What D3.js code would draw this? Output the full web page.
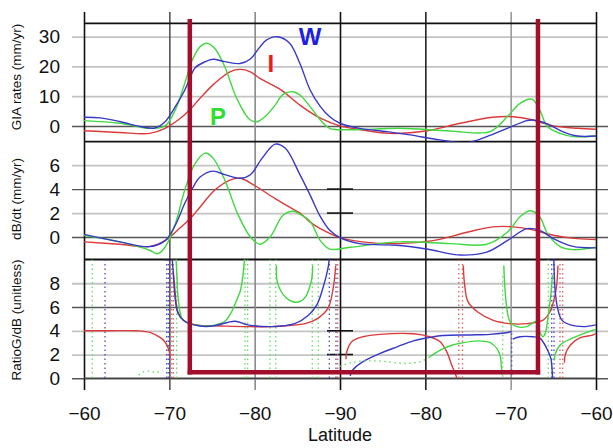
<!DOCTYPE html>
<html><head><meta charset="utf-8">
<script src="https://cdn.jsdelivr.net/npm/d3@7"></script>
<style>
html,body{margin:0;padding:0;background:#fff;}
svg{display:block;font-family:"Liberation Sans",Arial,Helvetica,sans-serif;}
</style></head>
<body>
<svg id="c" width="613" height="448"></svg>
<script>
// ---- x axis: position along the transect (degrees), labelled as latitude ----
const xTicks = [0, 10, 20, 30, 40, 50, 60];
const xTickLabels = ["\u221260","\u221270","\u221280","\u221290","\u221280","\u221270","\u221260"];

// ---- panel 1: GIA rates (mm/yr) ----
const giaTicks = [0, 10, 20, 30];
const giaW = [[0,2.9],[1.9,2.7],[4.2,1.5],[6.6,-0.2],[8.3,-0.7],[9.5,1.4],[10.7,6.5],[11.8,12],[12.4,16],[13.0,19.5],[14.2,21.6],[15.1,22.4],[16.5,21.6],[18.3,21],[19.5,22.5],[20.6,26.5],[21.4,28.9],[22.7,30],[24.1,27.8],[25.3,21],[26.5,12.1],[27.7,6.5],[28.8,3.1],[30.0,0.9],[32.3,-0.8],[35.5,-1.9],[38.2,-3],[41.7,-4.7],[44.9,-5.6],[47.2,-3.6],[49.6,-0.8],[51.9,1.8],[52.6,2.0],[54.3,0.7],[56.1,-1.9],[57.8,-3.4],[60,-3.4]];
const giaI = [[0,-1.6],[4.2,-2.2],[7.7,-2.5],[9.5,-0.8],[11.3,2.6],[12.4,5.4],[13.6,9.3],[15.3,14.3],[17.1,18.2],[18.3,19],[19.5,18.2],[20.6,16],[23.0,12.3],[25.3,7],[27.7,2.6],[30.0,0],[32.1,-1.1],[35.8,-2.5],[40.2,-1.6],[44.1,0.9],[47.9,2.9],[50.3,3.1],[52.6,2],[55.0,0],[57.8,-0.8],[60,-1.1]];
const giaP = [[0,1.8],[4.2,0.9],[7.7,-0.8],[9.5,0],[10.7,5.4],[11.8,14.3],[12.7,22.2],[13.6,26.6],[14.4,27.8],[15.3,26.1],[16.5,19.9],[17.7,10.5],[18.3,7],[18.9,4],[19.5,2],[20.3,1.4],[21.2,3.1],[22.4,7],[23.3,10.5],[24.5,11.5],[25.3,10.4],[26.5,6.5],[27.7,2],[28.8,-0.8],[31.2,-1.3],[37.0,-0.8],[42.9,-1.7],[47.6,-1.9],[49.6,3.1],[51.1,7.6],[52.5,9],[53.4,5.4],[54.3,-0.2],[55.8,-2.5],[57.3,-3.6],[60,-3.4]];

// ---- panel 2: dB/dt (mm/yr) ----
const dbTicks = [0, 2, 4, 6];
const dbW = [[0,0.23],[4.2,-0.4],[7.7,-0.8],[9.5,-0.3],[10.7,1.0],[11.8,2.8],[12.7,4.05],[13.6,5.0],[15.1,5.5],[16.5,5.2],[18.3,4.9],[19.5,5.2],[20.9,6.6],[22.4,7.75],[23.6,7.4],[25.3,5.2],[26.5,3.5],[27.7,1.7],[28.8,0.56],[30,-0.05],[32.3,-0.55],[37.0,-0.7],[40.2,-1.0],[44.1,-1.5],[47.2,-1.25],[49.6,-0.3],[51.9,0.7],[53.4,0.56],[55.0,-0.13],[57.3,-0.78],[60,-0.9]];
const dbI = [[0,-0.4],[4.2,-0.6],[7.7,-0.78],[9.5,-0.3],[11.3,0.8],[12.4,1.5],[13.6,2.5],[15.3,3.9],[17.1,4.75],[18.3,4.9],[20.0,4.3],[22.4,3.2],[24.8,2.2],[25.3,2.0],[26.5,1.25],[27.7,0.7],[30,-0.05],[32.6,-0.4],[37.0,-0.55],[40.9,-0.3],[44.9,0.4],[47.9,0.85],[50.3,0.85],[52.6,0.6],[55.0,0.15],[57.8,-0.13],[60,-0.2]];
const dbP = [[0,0.15],[4.2,-0.4],[7.7,-1.1],[8.6,-1.4],[9.5,-0.85],[10.7,1.1],[11.8,3.9],[13.0,6.1],[14.2,7.0],[15.1,6.6],[16.5,4.75],[18.0,1.95],[19.5,0],[20.6,-0.6],[21.8,0],[23.3,1.8],[24.5,2.15],[25.3,1.9],[26.5,1.3],[27.7,-0.3],[28.8,-1],[31.2,-0.85],[37,-0.4],[42.9,-0.55],[47.2,-0.6],[49.6,0.4],[51.1,1.7],[52.3,2.2],[53.4,1.7],[54.3,0.3],[55.8,-0.8],[57.3,-1.05],[60,-0.85]];

// ---- panel 3: RatioG/dB (unitless); null = break at a singularity ----
const ratioTicks = [0, 2, 4, 6, 8];
const ratioI = [[0,4.0],[3,4.0],[6.2,4.0],[7.8,3.85],[9.0,3.4],[9.6,2.95],[10.0,2.25],[10.1,1.7],[10.1,null],
 [10.45,9.0],[10.6,7.9],[11.0,5.6],[11.6,4.9],[12.4,4.6],[13.6,4.45],[16,4.4],[19,4.35],[22,4.35],[24,4.45],[25.9,4.6],[27.4,5.05],[28.6,5.9],[29.2,7.6],[29.5,9.5],[29.6,null],
 [30.7,1.6],[30.8,2.25],[31.4,3.1],[32.7,3.5],[34.7,3.7],[38.6,3.75],[40.5,3.5],[41.7,3.1],[42.5,2.25],[43.1,1.1],[43.5,0.4],[43.7,0],[43.8,null],
 [44.45,9.5],[44.6,7.9],[45.0,6.45],[46.1,5.6],[47.9,4.9],[49.9,4.6],[51.9,4.6],[53.8,4.9],[54.6,5.6],[55.2,7.0],[55.4,7.9],[55.55,9.5],[55.7,null],
 [56.3,1.3],[56.4,2.0],[57.0,2.8],[58.1,3.4],[59.7,3.65],[60,3.8]];
const ratioW = [[10.3,10.5],[10.45,9.0],[11.0,5.5],[11.8,4.8],[13.6,4.4],[15.1,4.4],[17.7,4.8],[19.2,4.5],[22.0,4.35],[24.7,4.6],[26.3,5.3],[27.3,6.2],[28.0,7.6],[28.6,9.3],[28.8,10.5],[29,null],
 [31.2,0.2],[31.5,0.7],[32.7,1.4],[34.7,2.1],[36.7,2.65],[38.6,3.15],[40.2,3.4],[42.1,3.6],[45.2,3.65],[47.6,3.7],[49.9,3.9],[50.1,3.95],[50.15,null],
 [50.25,3.3],[51.1,3.5],[52.6,3.5],[53.4,3.4],[53.9,2.95],[54.4,2.25],[54.7,1.7],[54.85,0.8],[54.9,0],[55,null],
 [55.05,10.5],[55.2,7.5],[55.5,5.9],[56.0,4.9],[57.0,4.5],[58.5,4.35],[60,4.5]];
const ratioP = [[10.75,10.5],[10.9,8.5],[11.0,7.0],[11.6,4.9],[13.0,4.5],[14.2,4.4],[15.4,4.5],[16.5,4.8],[17.3,5.6],[17.9,6.6],[18.3,7.3],[18.5,8.0],[18.75,9.5],[18.85,10.5],[19,null],
 [22.55,9.5],[22.6,8.3],[22.9,7.6],[23.4,7.0],[24.0,6.6],[24.7,6.4],[25.4,6.5],[26.0,6.9],[26.4,7.6],[26.7,8.4],[26.8,9.5],[27,null],
 [40.5,1.8],[40.9,2.0],[42.1,2.5],[43.2,2.8],[44.1,2.95],[46.1,3.15],[47.6,3.0],[48.4,2.5],[48.8,1.8],[48.9,1.1],[49.0,0.3],[49.05,null],
 [49.2,9.5],[49.25,8.55],[49.5,6.2],[49.9,4.8],[50.7,4.35],[51.9,4.35],[53.0,4.8],[53.4,3.9],[53.8,3.5],[54.1,3.9],[54.4,5.3],[54.7,7.0],[54.9,8.7],[55,null],
 [55.15,1.5],[55.2,2.0],[55.8,2.8],[57.3,3.4],[59.9,4.1],[60,4.1]];
const ratioPdotted = [[6.4,0.28],[7.0,0.55],[7.8,0.6],[8.4,0.5],[9.2,0.7],[9.3,null],
 [30.0,1.0],[31.2,1.3],[32.7,1.45],[34.7,1.45],[36.7,1.3],[37.9,1.25],[39.4,1.4],[40.5,1.8]];
// asymptote markers: [position, series, top value]
const asymptotes = [[0.97,"P",10],[2.46,"W",10],[9.69,"W",10],[9.88,"W",10],[10.28,"I",10],[10.47,"I",10],[10.86,"P",10],
 [18.87,"P",10],[19.18,"P",10],[21.80,"P",10],[22.47,"P",10],[26.75,"P",10],[27.46,"P",10],[28.75,"W",10],[29.53,"W",10],[29.73,"I",10],
 [43.92,"I",10],[44.36,"I",10],[49.07,"P",8.6],[50.12,"W",3.8],[54.41,"P",10],[54.81,"W",10],[55.08,"W",10],[55.78,"I",10],[56.10,"I",10]];

// annotation box (transect positions) and series labels
const boxPos = [12.4, 53.2];
const labels = [{t:"W", s:"W", x:26.5, v:27.3},{t:"I", s:"I", x:21.9, v:18},{t:"P", s:"P", x:15.7, v:0.2}];

const colors = {W:"#3838c8", I:"#dc3a3a", P:"#3fd83f"};
const labelColors = {W:"#1f1fe0", I:"#f01818", P:"#30de30"};
const dotColors = {W:"#4a4ad0", I:"#e06060", P:"#66dd66"};

// ---- layout ----
const L = 84, R = 596;
const svg = d3.select("#c");
const x = d3.scaleLinear().domain([0,60]).range([L,R]);
const y1 = d3.scaleLinear().domain([-5.3,34.5]).range([141.7,23.3]);
const y2 = d3.scaleLinear().domain([-1.87,7.95]).range([259.5,141.7]);
const y3 = d3.scaleLinear().domain([0,10]).range([378.3,259.5]);

const panels = [
 {y:y1, ticks:giaTicks, dark:[0], title:"GIA rates (mm/yr)", series:[["I",giaI],["P",giaP],["W",giaW]]},
 {y:y2, ticks:dbTicks, dark:[0,4], title:"dB/dt (mm/yr)", series:[["I",dbI],["P",dbP],["W",dbW]]},
 {y:y3, ticks:ratioTicks, dark:[0,6], title:"RatioG/dB (unitless)", series:[["I",ratioI],["P",ratioP],["W",ratioW]]}
];

const defs = svg.append("defs");
panels.forEach((p,i)=>{
  const r = p.y.range();
  defs.append("clipPath").attr("id","clip"+i).append("rect")
    .attr("x",L).attr("y",r[1]).attr("width",R-L).attr("height",r[0]-r[1]);
});

// horizontal gridlines + y tick labels via axes
panels.forEach((p,i)=>{
  const g = svg.append("g").attr("transform","translate(72,0)")
    .call(d3.axisLeft(p.y).tickValues(p.ticks).tickSize(-(608-72)).tickPadding(12).tickFormat(d3.format("d")));
  g.select(".domain").remove();
  g.selectAll(".tick line")
    .attr("stroke", d => p.dark.includes(d) ? "#555" : "#c4c4c4")
    .attr("stroke-width", d => p.dark.includes(d) ? 1.4 : 1.8);
  g.selectAll(".tick text").attr("font-size",19).attr("fill","#111")
    .attr("font-family","'Liberation Sans',Arial,sans-serif");
});

// vertical gridlines + x tick labels
const vcol = ["#111","#555","#8a8a8a","#111","#222","#999","#111"];
const gx = svg.append("g").attr("transform","translate(0,12)")
  .call(d3.axisBottom(x).tickValues(xTicks).tickSize(378).tickPadding(17).tickFormat((d,i)=>xTickLabels[i]));
gx.select(".domain").remove();
gx.selectAll(".tick line").attr("stroke",(d,i)=>vcol[i]).attr("stroke-width",1.6);
gx.selectAll(".tick text").attr("font-size",19).attr("fill","#111")
  .attr("font-family","'Liberation Sans',Arial,sans-serif");

// frame lines
[y1.range()[1], y1.range()[0], y2.range()[0]].forEach(yy=>{
  svg.append("line").attr("x1",L).attr("x2",R).attr("y1",yy).attr("y2",yy)
    .attr("stroke","#111").attr("stroke-width",1.8);
});
svg.append("line").attr("x1",L).attr("x2",R).attr("y1",y3(0)).attr("y2",y3(0))
  .attr("stroke","#444").attr("stroke-width",1.4);

// short ticks on the central meridian
[[y2,[2,4]],[y3,[2,4]]].forEach(([yy,vals])=>{
  vals.forEach(v=>svg.append("line").attr("x1",x(30)-13).attr("x2",x(30)+13)
    .attr("y1",yy(v)).attr("y2",yy(v)).attr("stroke","#111").attr("stroke-width",1.6));
});

// asymptote dotted lines (panel 3)
const g3d = svg.append("g").attr("clip-path","url(#clip2)");
asymptotes.forEach(a=>{
  g3d.append("line").attr("x1",x(a[0])).attr("x2",x(a[0]))
    .attr("y1",y3(a[2])).attr("y2",y3(0))
    .attr("stroke",dotColors[a[1]]).attr("stroke-width",1.3).attr("stroke-dasharray","1.5,3");
});

// curves
panels.forEach((p,i)=>{
  const g = svg.append("g").attr("clip-path",`url(#clip${i})`);
  const line = d3.line().defined(d=>d[1]!==null).x(d=>x(d[0])).y(d=>p.y(d[1]))
    .curve(d3.curveCatmullRom.alpha(0.5));
  p.series.forEach(([k,data])=>{
    g.append("path").attr("d",line(data)).attr("fill","none")
      .attr("stroke",colors[k]).attr("stroke-width",1.4);
  });
  if(i===2){
    g.append("path").attr("d",line(ratioPdotted)).attr("fill","none")
      .attr("stroke",dotColors.P).attr("stroke-width",1.4).attr("stroke-dasharray","1.5,3.5");
  }
});

// annotation box
const boxTop = 19, boxBottom = y3(0.5);
const bc = "#a20e2c";
boxPos.forEach(bp=>{
  svg.append("line").attr("x1",x(bp)).attr("x2",x(bp)).attr("y1",boxTop).attr("y2",boxBottom+2.2)
    .attr("stroke",bc).attr("stroke-width",4.5);
});
svg.append("line").attr("x1",x(boxPos[0])-2.2).attr("x2",x(boxPos[1])+2.2)
  .attr("y1",boxBottom).attr("y2",boxBottom).attr("stroke",bc).attr("stroke-width",4.5);

// series labels
labels.forEach(l=>{
  svg.append("text").attr("x",x(l.x)).attr("y",y1(l.v)).attr("text-anchor","middle")
    .attr("font-size",24).attr("font-weight","bold").attr("fill",labelColors[l.s]).text(l.t);
});

// axis titles
const titleY = [77,199,320];
panels.forEach((p,i)=>{
  svg.append("text").attr("transform",`translate(21,${titleY[i]}) rotate(-90)`)
    .attr("text-anchor","middle").attr("font-size",13.5).attr("fill","#111").text(p.title);
});
svg.append("text").attr("x",x(30)).attr("y",441).attr("text-anchor","middle")
  .attr("font-size",18).attr("fill","#111").text("Latitude");
</script>
</body></html>
